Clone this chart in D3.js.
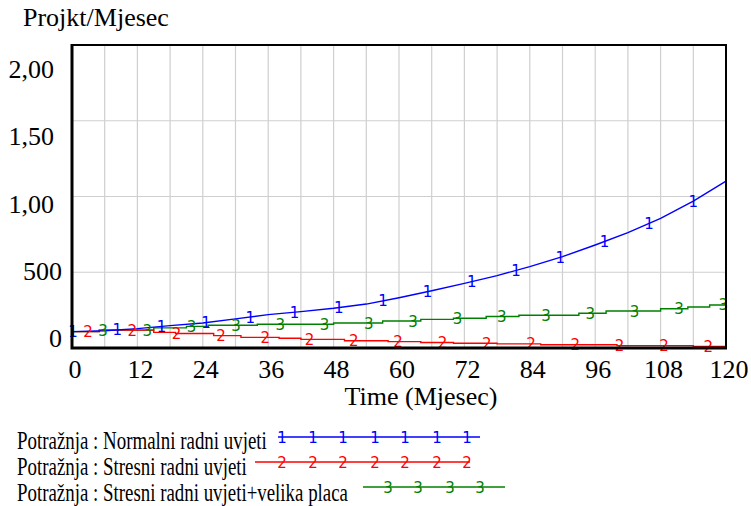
<!DOCTYPE html>
<html>
<head>
<meta charset="utf-8">
<script src="https://cdn.jsdelivr.net/npm/d3@7"></script>
<style>
  body { margin: 0; background: #fff; }
</style>
</head>
<body>
<script>
// Blue: Normalni radni uvjeti (read every 6 months)
const normalT = [0, 6, 12, 18, 24, 30, 36, 42, 48, 54, 60, 66, 72, 78, 84, 90, 96, 102, 108, 114, 120];
const normalV = [108, 114, 128, 148, 165, 192, 220, 240, 262, 290, 332, 378, 427, 478, 537, 603, 680, 762, 856, 970, 1102];

// Red: Stresni radni uvjeti (step points)
const stresT = [0, 5, 15, 19, 26, 31, 38, 42, 50, 58, 64, 70, 78, 86, 100, 114, 120];
const stresV = [108, 118, 103, 96, 82, 70, 64, 57, 48, 42, 36, 31, 27, 21, 16, 11, 11];

// Green: Stresni radni uvjeti+velika placa (step points)
const placaT = [0, 5, 15, 21, 25, 34, 48, 57, 64, 70, 76, 82, 93, 98, 108, 113, 117, 120];
const placaV = [108, 118, 133, 143, 150, 157, 165, 178, 189, 196, 208, 216, 229, 244, 259, 271, 284, 284];

const xTicks = [0, 12, 24, 36, 48, 60, 72, 84, 96, 108, 120];
const yTicks = [0, 500, 1000, 1500, 2000];
const yTickLabels = ["0", "500", "1,00", "1,50", "2,00"];

const seriesNames = [
    "Potražnja : Normalni radni uvjeti",
    "Potražnja : Stresni radni uvjeti",
    "Potražnja : Stresni radni uvjeti+velika placa"
];

const SERIF = '"Liberation Serif", "Times New Roman", serif';
const SANS = '"DejaVu Sans", sans-serif';

const W = 751, H = 506;
const plot = {left: 72, right: 726, top: 45, bottom: 348};

const svg = d3.select("body").append("svg")
    .attr("width", W)
    .attr("height", H);

const x = d3.scaleLinear().domain([0, 120]).range([plot.left, plot.right]);
const y = d3.scaleLinear().domain([0, 2000]).range([plot.bottom, plot.top]);
// Vensim spreads its value labels over a slightly different span than the grid
const yLab = d3.scaleLinear().domain([0, 2000]).range([347, 78]);

// grid
svg.append("g").selectAll("line")
    .data(d3.range(0, 121, 6))
    .join("line")
    .attr("x1", d => x(d)).attr("x2", d => x(d))
    .attr("y1", plot.top).attr("y2", plot.bottom)
    .attr("stroke", "#cfcfcf").attr("stroke-width", 1.2);

svg.append("g").selectAll("line")
    .data(yTicks)
    .join("line")
    .attr("x1", plot.left).attr("x2", plot.right)
    .attr("y1", d => y(d)).attr("y2", d => y(d))
    .attr("stroke", "#cfcfcf").attr("stroke-width", 1.2);

// series
const series = [
    {t: normalT, v: normalV, color: "#0000ff", label: "1", step: false, offset: 1},
    {t: stresT, v: stresV, color: "#ff0000", label: "2", step: true, offset: 16},
    {t: placaT, v: placaV, color: "#008000", label: "3", step: true, offset: 31}
];

function valueAt(s, time) {
    const i = d3.bisectRight(s.t, time) - 1;
    if (i < 0) return s.v[0];
    if (i >= s.t.length - 1) return s.v[s.v.length - 1];
    if (s.step) return s.v[i];
    const f = (time - s.t[i]) / (s.t[i + 1] - s.t[i]);
    return s.v[i] + f * (s.v[i + 1] - s.v[i]);
}

[series[2], series[1], series[0]].forEach(function (s) {
    const line = d3.line()
        .x((d, i) => x(s.t[i]))
        .y(d => y(d))
        .curve(s.step ? d3.curveStepAfter : d3.curveLinear);
    svg.append("path")
        .datum(s.v)
        .attr("fill", "none")
        .attr("stroke", s.color)
        .attr("stroke-width", 1.4)
        .attr("d", line);
});

// numbered markers along each line
series.forEach(function (s) {
    const px = d3.range(plot.left + s.offset, plot.right + 3, 44.3);
    svg.append("g").selectAll("text")
        .data(px)
        .join("text")
        .attr("x", d => d)
        .attr("y", d => y(valueAt(s, x.invert(Math.min(d, plot.right)))) + 5.5)
        .attr("text-anchor", "middle")
        .attr("font-family", SANS)
        .attr("font-size", 15)
        .attr("fill", s.color)
        .text(s.label);
});

// frame
svg.append("rect")
    .attr("x", plot.left).attr("y", plot.top)
    .attr("width", plot.right - plot.left).attr("height", plot.bottom - plot.top)
    .attr("fill", "none").attr("stroke", "#000").attr("stroke-width", 2);
svg.append("path")
    .attr("d", `M${plot.left},${plot.top - 1} V${plot.bottom} H${plot.right + 1}`)
    .attr("fill", "none").attr("stroke", "#000").attr("stroke-width", 3);

// y labels
svg.append("g").selectAll("text")
    .data(yTicks)
    .join("text")
    .attr("x", (d, i) => yTickLabels[i].includes(",") ? 54 : 62)
    .attr("y", d => yLab(d))
    .attr("text-anchor", "end")
    .attr("font-family", SERIF)
    .attr("font-size", 26)
    .text((d, i) => yTickLabels[i]);

// x labels
svg.append("g").selectAll("text")
    .data(xTicks)
    .join("text")
    .attr("x", d => x(d) + 3)
    .attr("y", 378)
    .attr("text-anchor", "middle")
    .attr("font-family", SERIF)
    .attr("font-size", 26)
    .text(d => d);

svg.append("text")
    .attr("x", 421).attr("y", 405)
    .attr("text-anchor", "middle")
    .attr("font-family", SERIF)
    .attr("font-size", 26)
    .text("Time (Mjesec)");

svg.append("text")
    .attr("x", 23).attr("y", 26)
    .attr("font-family", SERIF)
    .attr("font-size", 26)
    .text("Projkt/Mjesec");

// legend
const legend = [
    {baseline: 448.5, width: 250, lineY: 437, x0: 278, x1: 480, marks: [282, 313, 343, 375, 405, 437, 467]},
    {baseline: 475, width: 230, lineY: 462, x0: 255, x1: 470, marks: [282, 313, 343, 375, 405, 437, 467]},
    {baseline: 501, width: 331, lineY: 487, x0: 363, x1: 505, marks: [388, 418, 450, 480]}
];

legend.forEach(function (l, i) {
    const s = series[i];
    const g = svg.append("g");
    const txt = g.append("text")
        .attr("x", 0).attr("y", 0)
        .attr("font-family", SERIF)
        .attr("font-size", 26)
        .text(seriesNames[i]);
    // the legend font is condensed horizontally in the original
    const natural = txt.node().getComputedTextLength();
    g.attr("transform", `translate(17,${l.baseline}) scale(${l.width / natural},1)`);

    svg.append("line")
        .attr("x1", l.x0).attr("x2", l.x1)
        .attr("y1", l.lineY).attr("y2", l.lineY)
        .attr("stroke", s.color).attr("stroke-width", 1.4);
    svg.append("g").selectAll("text")
        .data(l.marks)
        .join("text")
        .attr("x", d => d)
        .attr("y", l.lineY + 6)
        .attr("text-anchor", "middle")
        .attr("font-family", SANS)
        .attr("font-size", 15)
        .attr("fill", s.color)
        .text(s.label);
});
</script>
</body>
</html>
